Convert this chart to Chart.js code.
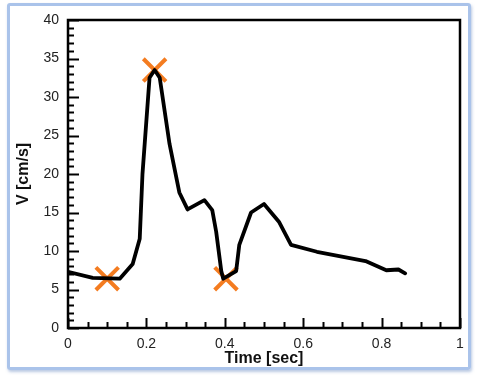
<!DOCTYPE html>
<html>
<head>
<meta charset="utf-8">
<script src="https://cdn.jsdelivr.net/npm/chart.js@4.4.1/dist/chart.umd.min.js"></script>
<style>
  html, body { margin: 0; padding: 0; background: #fff; }
  #wrap { position: relative; width: 480px; height: 378px; }
  #frame {
    position: absolute; left: 7px; top: 3px; width: 458px; height: 361px;
    border: 3px solid #aac3ea; border-radius: 3px;
    box-shadow: 1px 2px 3px rgba(120,150,200,0.5);
  }
  canvas { position: absolute; left: 0; top: 0; }
</style>
</head>
<body>
<div id="wrap">
  <div id="frame"></div>
  <canvas id="myChart" width="480" height="378"></canvas>
</div>
<script>
// velocity trace
const time = [0, 0.063, 0.132, 0.165, 0.183, 0.19, 0.208, 0.221, 0.234, 0.259, 0.284, 0.305, 0.348, 0.368, 0.378, 0.391, 0.396, 0.429, 0.437, 0.467, 0.5, 0.538, 0.569, 0.635, 0.759, 0.812, 0.843, 0.86];
const velocity = [7.3, 6.5, 6.4, 8.3, 11.6, 20, 32.5, 33.5, 32.5, 23.9, 17.6, 15.4, 16.6, 15.3, 12.5, 7.4, 6.4, 7.4, 10.8, 15.0, 16.1, 13.8, 10.8, 9.9, 8.7, 7.5, 7.6, 7.1];

// orange crosses
const markTime = [0.1, 0.221, 0.403];
const markV = [6.4, 33.5, 6.4];

const xTicks = [0, 0.2, 0.4, 0.6, 0.8, 1];
const yTicks = [0, 5, 10, 15, 20, 25, 30, 35, 40];

// frame + inward ticks
const frameTicks = {
    id: 'frameTicks',
    afterDatasetsDraw(chart) {
        const c = chart.ctx, a = chart.chartArea;
        const xs = chart.scales.x, ys = chart.scales.y;
        c.save();
        c.strokeStyle = '#000';
        c.lineWidth = 2;
        for (let i = 0; i <= 40; i++) {
            let y = Math.round(ys.getPixelForValue(i)) + 0.5;
            let len = i % 5 === 0 ? 11 : 6;
            c.beginPath(); c.moveTo(a.left, y); c.lineTo(a.left + len, y); c.stroke();
        }
        for (let i = 0; i <= 20; i++) {
            let x = Math.round(xs.getPixelForValue(i * 0.05)) + 0.5;
            let len = i % 4 === 0 ? 10 : 6;
            c.beginPath(); c.moveTo(x, a.bottom); c.lineTo(x, a.bottom - len); c.stroke();
        }
        c.lineWidth = 2.5;
        c.strokeRect(a.left, a.top, a.right - a.left, a.bottom - a.top);
        c.restore();
    }
};

let ctx = document.getElementById('myChart');

new Chart(ctx, {
    type: 'scatter',
    data: {
        datasets: [{
            label: 'V',
            data: time.map((t, i) => ({x: t, y: velocity[i]})),
            showLine: true,
            borderColor: '#000',
            borderWidth: 3.8,
            borderCapStyle: 'round',
            borderJoinStyle: 'round',
            pointRadius: 0,
            tension: 0
        }, {
            label: 'marks',
            data: markTime.map((t, i) => ({x: t, y: markV[i]})),
            pointStyle: 'crossRot',
            pointRadius: 16,
            pointBorderWidth: 4,
            pointBorderColor: '#f47c20',
            pointBackgroundColor: '#f47c20'
        }]
    },
    options: {
        responsive: false,
        animation: false,
        layout: { padding: { left: 0, top: 14, right: 18, bottom: 10 } },
        plugins: { legend: { display: false }, tooltip: { enabled: false } },
        scales: {
            x: {
                type: 'linear', min: 0, max: 1,
                afterBuildTicks: s => { s.ticks = xTicks.map(v => ({value: v})); },
                afterFit: s => { s.height = 40; },
                grid: { display: false, drawTicks: false },
                border: { display: false },
                ticks: {
                    padding: 8, color: '#222', maxRotation: 0,
                    font: { family: 'Liberation Sans, Arial', size: 14 },
                    callback: v => String(v)
                },
                title: {
                    display: true, text: 'Time [sec]', color: '#111',
                    font: { family: 'Liberation Sans, Arial', size: 16, weight: 'bold' },
                    padding: { top: 0, bottom: 0 }
                }
            },
            y: {
                min: 0, max: 40,
                afterBuildTicks: s => { s.ticks = yTicks.map(v => ({value: v})); },
                afterFit: s => { s.width = 68; },
                grid: { display: false, drawTicks: false },
                border: { display: false },
                ticks: {
                    padding: 9, color: '#222',
                    font: { family: 'Liberation Sans, Arial', size: 14 }
                },
                title: {
                    display: true, text: 'V [cm/s]', color: '#111',
                    font: { family: 'Liberation Sans, Arial', size: 16, weight: 'bold' },
                    padding: { top: 14, bottom: 2 }
                }
            }
        }
    },
    plugins: [frameTicks]
});
</script>
</body>
</html>
